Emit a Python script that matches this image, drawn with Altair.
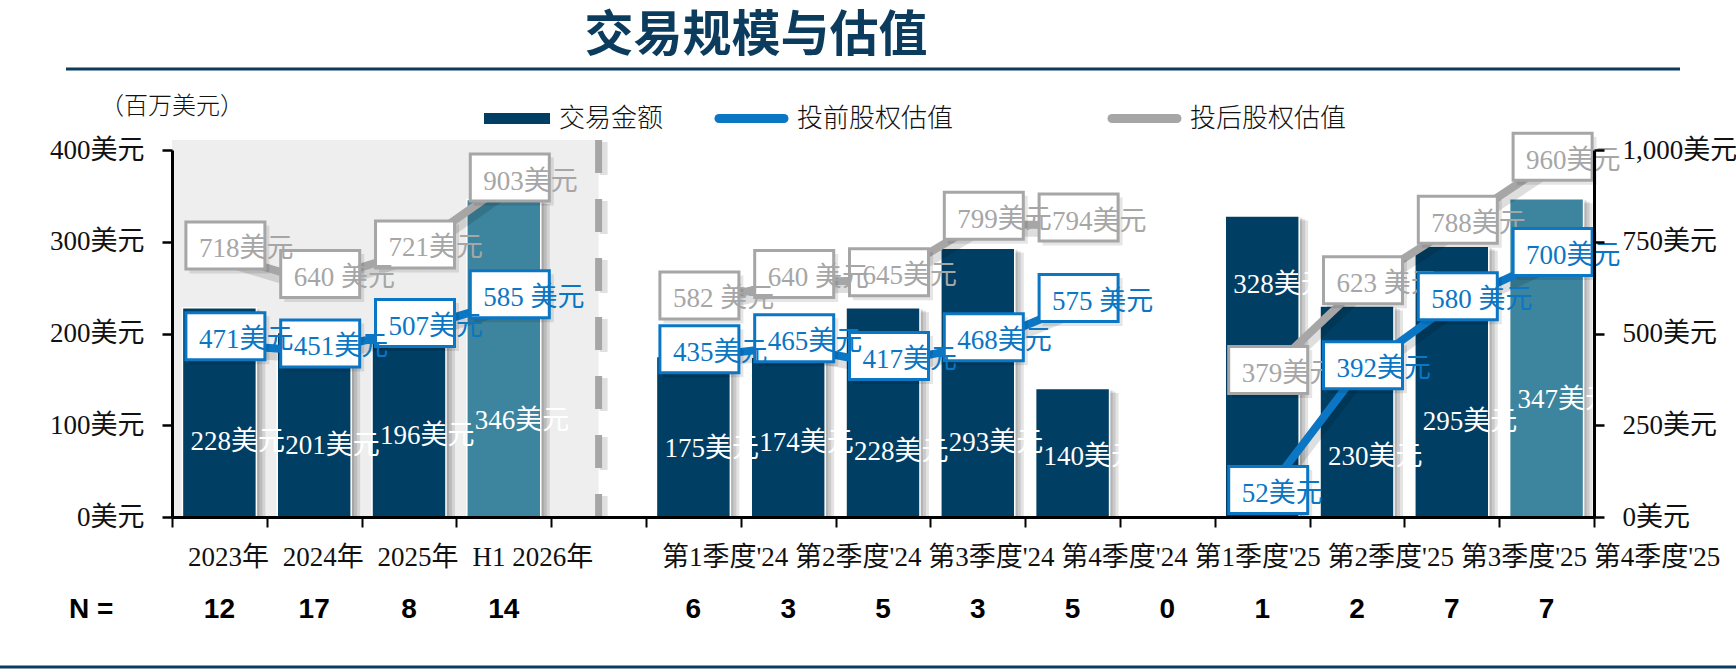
import altair as alt
import pandas as pd

# ---- text ----
title_text = "交易规模与估值"
unit_text = "（百万美元）"
legend_names = ["交易金额", "投前股权估值", "投后股权估值"]
n_prefix = "N ="

year_labels = ["2023年", "2024年", "2025年", "H1 2026年"]
quarter_labels = ["第1季度'24", "第2季度'24", "第3季度'24", "第4季度'24",
                  "第1季度'25", "第2季度'25", "第3季度'25", "第4季度'25"]

# ---- annual series (US$ m) ----
year_deal = [228, 201, 196, 346]
year_pre = [471, 451, 507, 585]
year_post = [718, 640, 721, 903]
year_n = [12, 17, 8, 14]
year_partial = [False, False, False, True]
year_pre_gap = [0, 0, 0, 1]
year_post_gap = [0, 1, 0, 0]

# ---- quarterly series (US$ m) ----
quarter_deal = [175, 174, 228, 293, 140, None, 328, 230, 295, 347]
quarter_pre = [435, 465, 417, 468, 575, None, 52, 392, 580, 700]
quarter_post = [582, 640, 645, 799, 794, None, 379, 623, 788, 960]
quarter_n = [6, 3, 5, 3, 5, 0, 1, 2, 7, 7]
quarter_partial = [False] * 9 + [True]
quarter_pre_gap = [0, 0, 0, 0, 1, 0, 0, 0, 1, 0]
quarter_post_gap = [1, 1, 0, 0, 0, 0, 0, 1, 0, 0]

# ---- style ----
NAVY = "#003e63"
TEAL = "#3d859e"
BLUE = "#0a76c4"
GREY = "#a6a6a6"
TITLE_BLUE = "#0b3c5d"
SERIF = "Liberation Serif, Noto Sans CJK SC"
CJK = "Noto Sans CJK SC"
BOLD_SANS = "Liberation Sans Narrow, Liberation Sans, Noto Sans"

W, H = 1422, 367
LEFT_MAX, RIGHT_MAX = 400, 1000
# value-label boxes: pixel extent above / below their point
BOX_UP, BOX_DOWN = 31.5, 15.5

# ---- slot layout: annual block, one separator slot, quarterly block ----
n_years = len(year_deal)
sep_slot = n_years
total_slots = n_years + 1 + len(quarter_deal)
slots = list(range(n_years)) + [sep_slot + 1 + j for j in range(len(quarter_deal))]

deal = year_deal + quarter_deal
pre = year_pre + quarter_pre
post = year_post + quarter_post
counts = year_n + quarter_n
partial = year_partial + quarter_partial
pre_gap = year_pre_gap + quarter_pre_gap
post_gap = year_post_gap + quarter_post_gap


def label_anchor(height, valuations):
    """Centre of the tallest stretch of a bar not hidden by a valuation box."""
    per_px = LEFT_MAX / H
    covered = []
    for v in valuations:
        if v is None:
            continue
        c = v * LEFT_MAX / RIGHT_MAX
        covered.append((max(0, c - BOX_DOWN * per_px), min(height, c + BOX_UP * per_px)))
    covered = sorted(iv for iv in covered if iv[0] < iv[1])
    best, cursor = (0, 0), 0
    for lo, hi in covered + [(height, height)]:
        if lo - cursor > best[1] - best[0]:
            best = (cursor, lo)
        cursor = max(cursor, hi)
    return (best[0] + best[1]) / 2


bar_rows = []
for s, v, p, a, b in zip(slots, deal, partial, pre, post):
    if v is None:
        continue
    bar_rows.append({"slot": s, "pos": s + 0.5, "x0": s + 0.11, "x1": s + 0.89,
                     "deal": v, "mid": label_anchor(v, [a, b]),
                     "kind": "partial" if p else "full", "label": f"{v}美元"})
bars_df = pd.DataFrame(bar_rows)


def line_frame(values, gaps):
    lookup = dict(zip(slots, zip(values, gaps)))
    seg, out = 0, []
    for s in range(total_slots):
        v, g = lookup.get(s, (None, 0))
        if v is None:
            seg += 1
            continue
        out.append({"pos": s + 0.5, "val": v, "seg": seg,
                    "label": f"{v}{' ' * g}美元"})
    return pd.DataFrame(out)


pre_df = line_frame(pre, pre_gap)
post_df = line_frame(post, post_gap)

n_df = pd.DataFrame({"pos": [s + 0.5 for s in slots], "txt": [str(c) for c in counts]})
cat_df = pd.DataFrame({
    "slot": list(range(n_years)) + [sep_slot + 1],
    "txt": year_labels + [" ".join(quarter_labels)],
})
one = pd.DataFrame({"k": [0]})

# ---- scales / axes ----
x_scale = alt.Scale(domain=[0, total_slots], nice=False, zero=False)
x_axis = alt.Axis(values=list(range(total_slots + 1)), labels=False, title=None, grid=False,
                  domainColor="#000", domainWidth=3, tickColor="#000", tickWidth=2,
                  tickSize=10, zindex=1)
yl_scale = alt.Scale(domain=[0, LEFT_MAX], nice=False)
yl_axis = alt.Axis(orient="left", values=[0, 100, 200, 300, 400],
                   labelExpr="datum.value + '美元'", title=None, grid=False,
                   domainColor="#000", domainWidth=3, tickColor="#000", tickWidth=2.5,
                   tickSize=10, labelPadding=18, labelFont=SERIF, labelFontSize=27,
                   labelFontWeight="normal", labelColor="#111", zindex=1)
yr_scale = alt.Scale(domain=[0, RIGHT_MAX], nice=False)
yr_axis = alt.Axis(orient="right", values=[0, 250, 500, 750, 1000],
                   labelExpr="format(datum.value, ',') + '美元'", title=None, grid=False,
                   domainColor="#000", domainWidth=3, tickColor="#000", tickWidth=2.5,
                   tickSize=10, labelPadding=18, labelFont=SERIF, labelFontSize=27,
                   labelFontWeight="normal", labelColor="#111", zindex=1)


def X(field):
    return alt.X(field, type="quantitative", scale=x_scale, axis=x_axis, title=None)


def YL(field):
    return alt.Y(field, type="quantitative", scale=yl_scale, axis=yl_axis, title=None)


def YR(field):
    return alt.Y(field, type="quantitative", scale=yr_scale, axis=yr_axis, title=None)


# ---- left block: shaded annual area, separator, bars ----
shade = alt.Chart(one).mark_rect(color="#eeeeee").encode(
    x=alt.X(datum=0, type="quantitative", scale=x_scale, axis=x_axis),
    x2=alt.X2(datum=n_years + 0.5),
    y=alt.value(-10), y2=alt.value(H),
)
sep_shadow = alt.Chart(one).mark_rule(color="#000", opacity=0.12, strokeWidth=8,
                                      strokeDash=[33, 26], xOffset=5).encode(
    x=alt.X(datum=sep_slot + 0.5, type="quantitative", scale=x_scale, axis=x_axis),
    y=alt.value(-8), y2=alt.value(H),
)
sep_line = alt.Chart(one).mark_rule(color=GREY, strokeWidth=7, strokeDash=[33, 26]).encode(
    x=alt.X(datum=sep_slot + 0.5, type="quantitative", scale=x_scale, axis=x_axis),
    y=alt.value(-10), y2=alt.value(H),
)

bar_base = alt.Chart(bars_df).encode(x=X("x0"), x2="x1", y=YL("deal"), y2=alt.Y2(datum=0))
bar_shadows = [
    bar_base.mark_rect(color="#000", opacity=0.11, xOffset=k, x2Offset=k, yOffset=k / 2)
    for k in (3, 6, 9)
]
bars = bar_base.mark_rect(stroke="white", strokeWidth=1.5).encode(
    color=alt.Color("kind:N", scale=alt.Scale(domain=["full", "partial"], range=[NAVY, TEAL]),
                    legend=None)
)
bar_text = alt.Chart(bars_df).mark_text(align="left", baseline="middle", dx=-29, dy=4,
                                        color="white", font=SERIF, fontSize=27).encode(
    x=X("pos"), y=YL("mid"), text="label:N"
)

# category labels and deal counts
cat_text = alt.Chart(cat_df).mark_text(align="left", baseline="middle", dx=16, font=SERIF,
                                       fontSize=27, color="#111").encode(
    x=X("slot"), y=alt.value(H + 41), text="txt:N"
)
n_text = alt.Chart(n_df).mark_text(align="center", baseline="middle", font=BOLD_SANS,
                                   fontWeight="bold", fontSize=28, color="#000").encode(
    x=X("pos"), y=alt.value(H + 93), text="txt:N"
)
n_head = alt.Chart(one).mark_text(text=n_prefix, align="left", baseline="middle", font=BOLD_SANS,
                                  fontWeight="bold", fontSize=28, color="#000").encode(
    x=alt.value(-103), y=alt.value(H + 93)
)

# title, rules, unit note, legend
title = alt.Chart(one).mark_text(text=title_text, align="center", baseline="middle", font=CJK,
                                 fontWeight="bold", fontSize=49, color=TITLE_BLUE).encode(
    x=alt.value(584), y=alt.value(-114)
)
title_rule = alt.Chart(one).mark_rule(color=TITLE_BLUE, strokeWidth=3).encode(
    x=alt.value(-106), x2=alt.value(1508), y=alt.value(-81)
)
bottom_rule = alt.Chart(one).mark_rule(color=TITLE_BLUE, strokeWidth=3).encode(
    x=alt.value(-172), x2=alt.value(1564), y=alt.value(H + 150)
)
unit = alt.Chart(one).mark_text(text=unit_text, align="left", baseline="middle", font=CJK,
                                fontWeight=300, fontSize=24, color="#111").encode(
    x=alt.value(-72), y=alt.value(-43)
)
leg_bar = alt.Chart(one).mark_rect(color=NAVY).encode(
    x=alt.value(312), x2=alt.value(378), y=alt.value(-37), y2=alt.value(-26)
)
leg_blue = alt.Chart(one).mark_rule(color=BLUE, strokeWidth=9, strokeCap="round").encode(
    x=alt.value(547), x2=alt.value(612), y=alt.value(-31.5)
)
leg_grey = alt.Chart(one).mark_rule(color=GREY, strokeWidth=9, strokeCap="round").encode(
    x=alt.value(940), x2=alt.value(1005), y=alt.value(-31.5)
)
leg_texts = [
    alt.Chart(one).mark_text(text=name, align="left", baseline="middle", font=CJK,
                             fontWeight=300, fontSize=26, color="#111").encode(
        x=alt.value(px), y=alt.value(-31.5)
    )
    for name, px in zip(legend_names, [387, 625, 1018])
]

left = alt.layer(shade, sep_shadow, sep_line, *bar_shadows, bars, bar_text, cat_text,
                 n_text, n_head, title, title_rule, bottom_rule, unit, leg_bar, leg_blue,
                 leg_grey, *leg_texts)


# ---- right block: valuation lines with boxed labels ----
def valuation_layers(df, color):
    base = alt.Chart(df).encode(x=X("pos"), y=YR("val"), detail="seg:N")
    shadow = base.mark_line(color="#000", opacity=0.13, strokeWidth=12, xOffset=2, yOffset=6)
    line = base.mark_line(color=color, strokeWidth=8)
    box_shadow = base.mark_rect(fill="#000", opacity=0.1, xOffset=-30, x2Offset=50,
                                yOffset=-BOX_UP + 3.5, y2Offset=BOX_DOWN + 4.5).encode(
        x2="pos", y2="val")
    box = base.mark_rect(fill="white", stroke=color, strokeWidth=3, xOffset=-33.5,
                         x2Offset=45.5, yOffset=-BOX_UP, y2Offset=BOX_DOWN).encode(
        x2="pos", y2="val")
    text = base.mark_text(align="left", baseline="middle", dx=-20.5, dy=-4, color=color,
                          font=SERIF, fontSize=27).encode(text="label:N")
    return [shadow, line, box_shadow, box, text]


right = alt.layer(*valuation_layers(post_df, GREY), *valuation_layers(pre_df, BLUE))

chart = alt.layer(left, right).resolve_scale(y="independent").properties(
    width=W, height=H,
    padding={"left": 172, "top": 150, "right": 1736 - 172 - W, "bottom": 669 - 150 - H},
    autosize=alt.AutoSizeParams(type="none"),
    background="white",
).configure_view(stroke=None).configure_axis(
    labelFont=SERIF, labelFontSize=27, labelFontWeight="normal"
)

chart.save("out.html", embed_options={"renderer": "svg", "actions": False})
